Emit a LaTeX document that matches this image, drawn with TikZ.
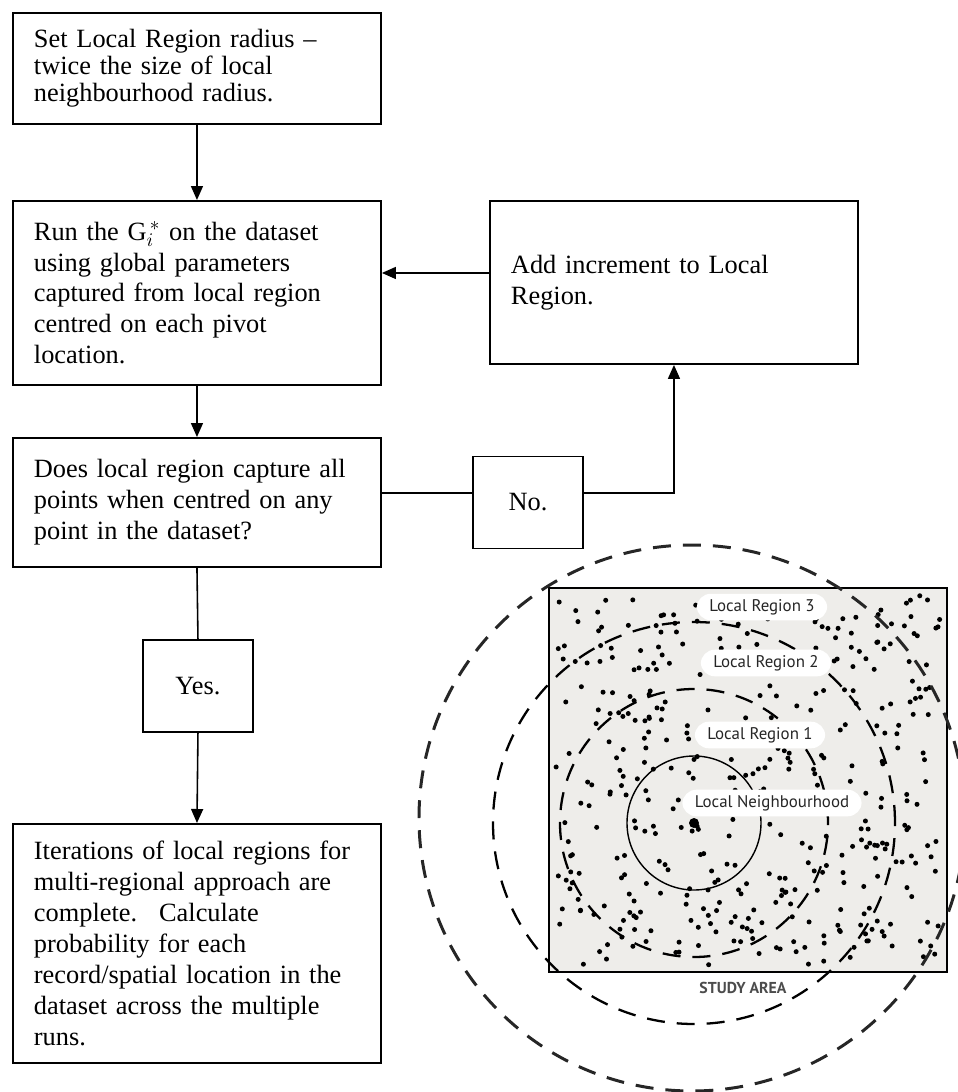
\documentclass[tikz,border=0pt]{standalone}
\usepackage{fontspec}
\setmainfont{Liberation Serif}
\newfontfamily\labelfont{PT Sans}
\usetikzlibrary{arrows.meta}
\definecolor{areagray}{RGB}{238,237,234}

\tikzset{
  stepbox/.style={draw,line width=1.1pt,anchor=north west,align=left,text width=6.52cm,
    inner xsep=0.42cm,inner ysep=0pt,font=\fontsize{15}{17.6}\selectfont},
  answer/.style={draw,line width=1.1pt,anchor=north west,minimum width=2.2cm,
    minimum height=1.84cm,font=\fontsize{15}{17.6}\selectfont},
  flow/.style={line width=0.9pt},
  ring/.style={line width=1.3pt,dash pattern=on 3.6mm off 2.4mm},
  ringlab/.style={fill=white,rounded corners=2.8mm,inner xsep=2.5mm,inner ysep=1.1mm,
    font=\labelfont\fontsize{9.6}{10}\selectfont,text=black!85},
}

\begin{document}
\begin{tikzpicture}[>={Triangle[length=2.8mm,width=2.4mm]}]
  \useasboundingbox (0,0) rectangle (19.16,-21.84);
  % flow chart on the left
  \node[stepbox,minimum height=2.22cm,font=\fontsize{15}{15.4}\selectfont] (set) at (0.24,-0.24)
    {Set Local Region radius --\\twice the size of local\\neighbourhood radius.};
  \node[stepbox,minimum height=3.68cm] (run) at (0.24,-4.00)
    {Run the G$_{i}^{\,*}$ on the dataset\\using global parameters\\captured from local region\\centred on each pivot\\location.};
  \node[stepbox,minimum height=3.26cm] (inc) at (9.78,-4.00)
    {Add increment to Local\\Region.\\[1.2cm]};
  \node[stepbox,minimum height=2.58cm] (does) at (0.24,-8.74)
    {Does local region capture all\\points when centred on any\\point in the dataset?};
  \node[answer] (no) at (9.44,-9.11) {No.};
  \node[answer] (yes) at (2.84,-12.78) {Yes.};
  \node[stepbox,minimum height=4.78cm] (done) at (0.24,-16.46)
    {Iterations of local regions for\\multi-regional approach are\\complete.~ Calculate\\probability for each\\record/spatial location in the\\dataset across the multiple\\runs.};
  \draw[flow,->] (set.south) -- (run.north);
  \draw[flow,->] ([yshift=1.9mm]inc.west) -- ([yshift=1.9mm]inc.west -| run.east);
  \draw[flow,->] (run.south) -- (does.north);
  \draw[flow] ([yshift=1.9mm]does.east) -- ([yshift=1.9mm]no.west);
  \draw[flow,->] ([yshift=1.9mm]no.east) -| (inc.south);
  \draw[flow] (does.south) -- (yes.north);
  \draw[flow,->] (yes.south) -- (done.north);
  % study area on the right
  \draw[line width=1.2pt,fill=areagray] (10.98,-11.76) rectangle (18.94,-19.44);
  \pgfmathsetseed{17}
  \foreach \k in {1,...,420}{
    \pgfmathsetmacro\px{11.12+7.68*rnd}
    \pgfmathsetmacro\py{-11.9-7.4*rnd}
    \fill (\px,\py) circle (0.05);
  }
  \fill (13.88,-16.46) circle (0.1);
  \draw[line width=0.8pt] (13.88,-16.46) circle (1.34);
  \draw[ring] (13.88,-16.46) circle (2.68);
  \draw[ring] (13.88,-16.46) circle (4.02);
  \draw[ring,line width=1.7pt,black!85] (13.84,-16.36) circle (5.46);
  \node[ringlab] (lr3) at (15.24,-12.14) {Local Region 3};
  \node[ringlab] (lr2) at (15.32,-13.26) {Local Region 2};
  \node[ringlab] (lr1) at (15.20,-14.70) {Local Region 1};
  \node[ringlab] (hood) at (15.44,-16.06) {Local Neighbourhood};
  \node[font=\labelfont\bfseries\fontsize{9}{10}\selectfont,text=black!70] (study) at (14.86,-19.76) {STUDY AREA};
\end{tikzpicture}
\end{document}
